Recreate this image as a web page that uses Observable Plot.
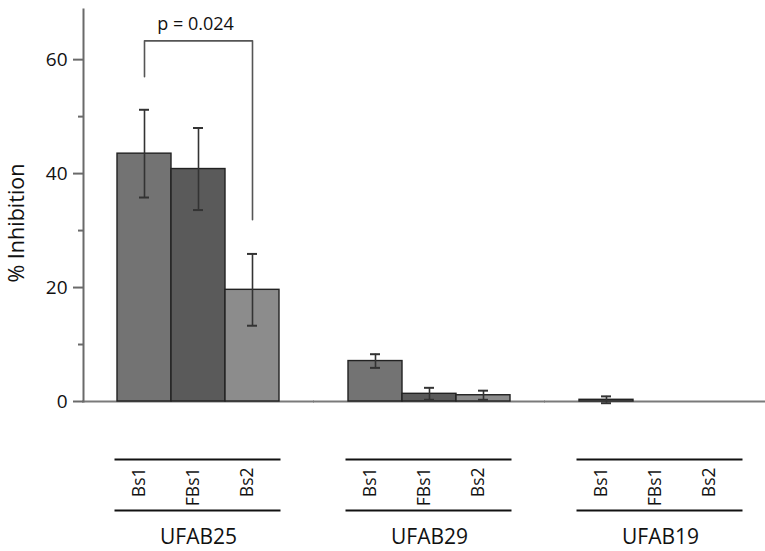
<!DOCTYPE html>
<html><head><meta charset="utf-8">
<script src="https://cdn.jsdelivr.net/npm/d3@7"></script>
<script src="https://cdn.jsdelivr.net/npm/@observablehq/plot@0.6"></script>
<style>body{margin:0;background:#fff}</style>
</head><body><div id="chart"></div>
<script>
// ---- data ----
const groups = ["UFAB25", "UFAB29", "UFAB19"];
const samples = ["Bs1", "FBs1", "Bs2"];
const UFAB25 = [43.5, 40.8, 19.6];
const UFAB25_err = [7.7, 7.2, 6.3];
const UFAB29 = [7.1, 1.35, 1.1];
const UFAB29_err = [1.2, 1.05, 0.8];
const UFAB19 = [0.3, 0, 0];
const UFAB19_err = [0.6, 0, 0];
const yTicks = [0, 20, 40, 60];
const yMinorTicks = [10, 30, 50];
const yLabel = "% Inhibition";
const pText = "p = 0.024";
const bracketFrom = "Bs1", bracketTo = "Bs2";
const bracketTop = 63.3, bracketLeftEnd = 57.0, bracketRightEnd = 31.9, pTextY = 66.3;

const fills = {Bs1: "#737373", FBs1: "#5a5a5a", Bs2: "#8c8c8c"};

const seriesVals = {UFAB25, UFAB29, UFAB19};
const seriesErr = {UFAB25: UFAB25_err, UFAB29: UFAB29_err, UFAB19: UFAB19_err};
const data = groups.flatMap(g => samples.map((s, i) => ({
  group: g, sample: s, value: seriesVals[g][i], err: seriesErr[g][i]
})));
const bracket = [
  {group: "UFAB25", sample: bracketFrom, y: bracketLeftEnd},
  {group: "UFAB25", sample: bracketFrom, y: bracketTop},
  {group: "UFAB25", sample: bracketTo, y: bracketTop},
  {group: "UFAB25", sample: bracketTo, y: bracketRightEnd}
];
const font = "'Open Sans', sans-serif";
const axisShift = -34; // y axis sits left of the first group

const chart = Plot.plot({
  width: 765, height: 551,
  marginLeft: 83, marginRight: 0, marginTop: 9, marginBottom: 150,
  style: {fontFamily: font, background: "#fff", color: "#111"},
  fx: {domain: groups, paddingInner: 0.2987, paddingOuter: 0.1255, align: 0.586, axis: null, label: null},
  x: {domain: samples, padding: 0, axis: null, label: null},
  y: {domain: [0, 68.8], axis: null},
  marks: [
    Plot.ruleY([0], {stroke: "#7a7a7a", strokeWidth: 2, insetLeft: -35, insetRight: -35}),
    Plot.frame({anchor: "left", facetAnchor: "left", dx: axisShift, stroke: "#6a6a6a", strokeWidth: 2}),
    Plot.axisY(yTicks, {anchor: "left", dx: axisShift, tickSize: 10, tickPadding: 6, fontSize: 19, stroke: "#6a6a6a", strokeWidth: 2, fill: "#111", label: null}),
    Plot.axisY(yMinorTicks, {anchor: "left", dx: axisShift, tickSize: 5, tickFormat: () => "", stroke: "#6a6a6a", strokeWidth: 2, label: null}),
    Plot.text([yLabel], {frameAnchor: "left", facetAnchor: "left", rotate: -90, dx: -100, dy: 77, fontSize: 21.5, fill: "#111"}),
    Plot.barY(data, {fx: "group", x: "sample", y: "value", fill: d => fills[d.sample], stroke: "#222", strokeWidth: 1.4, filter: d => d.value > 0}),
    Plot.ruleX(data, {fx: "group", x: "sample", y1: d => d.value - d.err, y2: d => d.value + d.err, stroke: "#333", strokeWidth: 1.6, filter: d => d.err > 0}),
    Plot.tickY(data, {fx: "group", x: "sample", y: d => d.value + d.err, insetLeft: 22, insetRight: 22, stroke: "#333", strokeWidth: 2, filter: d => d.err > 0}),
    Plot.tickY(data, {fx: "group", x: "sample", y: d => d.value - d.err, insetLeft: 22, insetRight: 22, stroke: "#333", strokeWidth: 2, filter: d => d.err > 0}),
    Plot.line(bracket, {fx: "group", x: "sample", y: "y", stroke: "#555", strokeWidth: 1.6, curve: "linear"}),
    Plot.text([pText], {fx: () => "UFAB25", x: () => "FBs1", y: () => pTextY, fontSize: 18, fill: "#111", dx: -3}),
    Plot.frame({anchor: "bottom", dy: 58, stroke: "#111", strokeWidth: 2, insetLeft: -2}),
    Plot.frame({anchor: "bottom", dy: 109, stroke: "#111", strokeWidth: 2, insetLeft: -2}),
    Plot.text(data, {fx: "group", x: "sample", text: "sample", frameAnchor: "bottom", rotate: -90, textAnchor: "end", dy: 66, fontSize: 17.5, fill: "#111"}),
    Plot.text(groups, {fx: d => d, text: d => d, frameAnchor: "bottom", dy: 142, fontSize: 21, fill: "#111"})
  ]
});
document.getElementById("chart").appendChild(chart);
</script>
</body></html>
